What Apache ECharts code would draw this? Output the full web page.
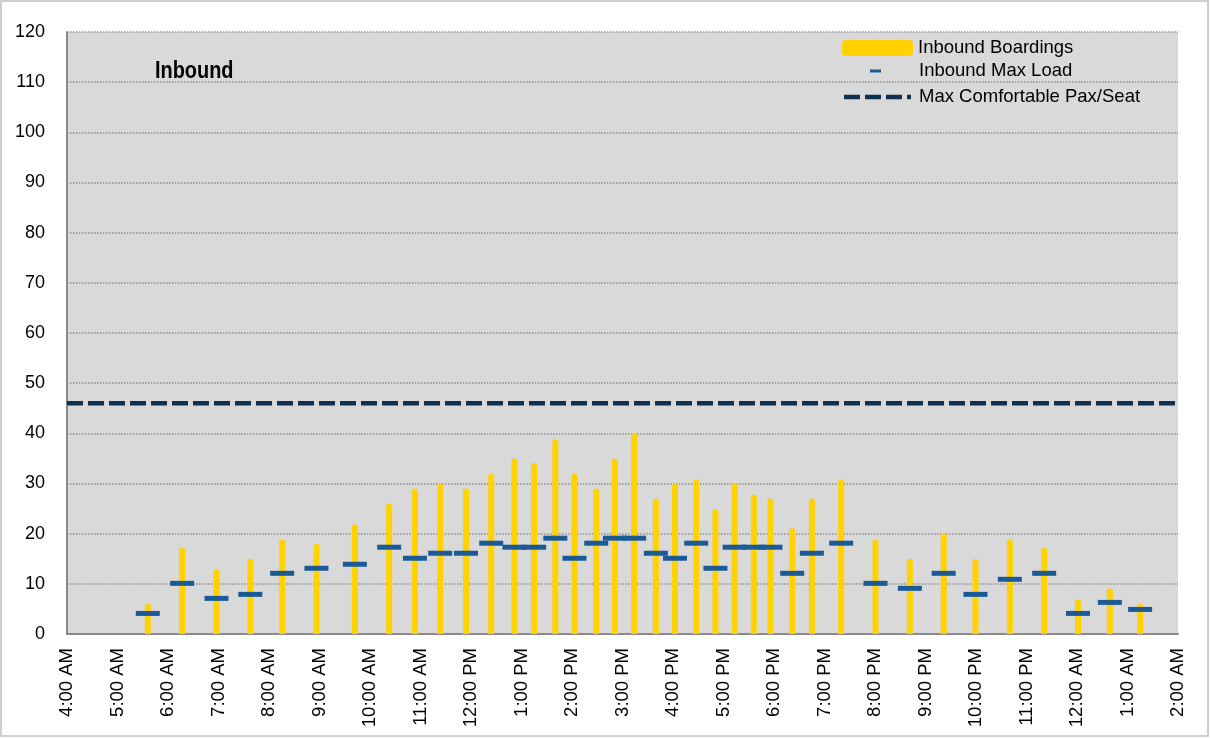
<!DOCTYPE html>
<html>
<head>
<meta charset="utf-8">
<script src="https://cdn.jsdelivr.net/npm/echarts@6/dist/echarts.min.js"></script>
<style>
  html, body { margin: 0; padding: 0; background: #fff; }
  #chart { width: 1210px; height: 738px; }
</style>
</head>
<body>
<div id="chart"></div>
<script>
// trip times (hours after midnight, past 24 = next day)
var tripTimes = [5.60, 6.28, 6.96, 7.63, 8.26, 8.94, 9.70, 10.38, 10.89, 11.39,
  11.90, 12.40, 12.86, 13.25, 13.67, 14.05, 14.48, 14.85, 15.23, 15.66,
  16.04, 16.46, 16.84, 17.22, 17.60, 17.93, 18.36, 18.75, 19.33, 20.01,
  20.69, 21.36, 21.99, 22.67, 23.35, 24.02, 24.65, 25.25];
var boardings = [6.2, 17.2, 12.9, 15, 18.9, 18, 21.9, 26, 29, 30,
  29, 32, 35, 34.1, 38.8, 32, 29, 35, 40.1, 27,
  30, 30.8, 24.9, 30, 27.8, 27, 21.1, 27, 30.8, 18.9,
  15, 20.2, 15, 18.9, 17.2, 6.9, 9.1, 6.1];
var maxLoad = [4.1, 10.1, 7.1, 7.9, 12.1, 13.1, 13.9, 17.3, 15.1, 16.1,
  16.1, 18.1, 17.3, 17.3, 19.1, 15.1, 18.1, 19.1, 19.1, 16.1,
  15.1, 18.1, 13.1, 17.3, 17.3, 17.3, 12.1, 16.1, 18.1, 10.1,
  9.1, 12.1, 7.9, 10.9, 12.1, 4.1, 6.3, 4.9];
var comfortLevel = 46;
var hourLabels = ['4:00 AM', '5:00 AM', '6:00 AM', '7:00 AM', '8:00 AM', '9:00 AM',
  '10:00 AM', '11:00 AM', '12:00 PM', '1:00 PM', '2:00 PM', '3:00 PM', '4:00 PM',
  '5:00 PM', '6:00 PM', '7:00 PM', '8:00 PM', '9:00 PM', '10:00 PM', '11:00 PM',
  '12:00 AM', '1:00 AM', '2:00 AM'];
var yTicks = [0, 10, 20, 30, 40, 50, 60, 70, 80, 90, 100, 110, 120];

var FONT = "'Liberation Sans', Arial, sans-serif";
var xMin = 4, xMax = 4 + hourLabels.length - 1;

var boardData = tripTimes.map(function (t, i) { return [t, boardings[i]]; });
var loadData = tripTimes.map(function (t, i) { return [t, maxLoad[i]]; });

// dashed legend icon, same dash rhythm as the line
var dashIcon = 'path://M0,0h16v4.5h-16z M21,0h16v4.5h-16z M42,0h16v4.5h-16z M63,0h4v4.5h-4z';

var myChart = echarts.init(document.getElementById('chart'));

var option = {
  animation: false,
  graphic: [
    {
      type: 'rect',
      shape: { x: 1, y: 1, width: 1207, height: 735 },
      style: { fill: 'none', stroke: '#cfcfcf', lineWidth: 2 },
      z: -1
    },
    {
      type: 'text',
      x: 155,
      y: 59,
      scaleX: 0.83,
      style: { text: 'Inbound', font: 'bold 24px ' + FONT, fill: '#000', verticalAlign: 'top' },
      z: 10
    }
  ],
  grid: {
    left: 67, right: 32, top: 32, bottom: 104,
    show: true,
    backgroundColor: '#d9d9d9',
    borderWidth: 0
  },
  legend: [
    {
      data: ['Inbound Boardings'],
      left: 837, top: 32,
      itemWidth: 71, itemHeight: 16,
      icon: 'roundRect',
      textStyle: { fontFamily: FONT, fontSize: 18.5, color: '#000', lineHeight: 22 }
    },
    {
      data: ['Inbound Max Load'],
      left: 865, top: 55,
      itemWidth: 11, itemHeight: 3,
      icon: 'rect',
      textStyle: { fontFamily: FONT, fontSize: 18.5, color: '#000', lineHeight: 22, padding: [0, 0, 0, 33] }
    },
    {
      data: ['Max Comfortable Pax/Seat'],
      left: 839, top: 81,
      itemWidth: 67, itemHeight: 4.5,
      icon: dashIcon,
      textStyle: { fontFamily: FONT, fontSize: 18.5, color: '#000', lineHeight: 22, padding: [0, 0, 0, 3] }
    }
  ],
  xAxis: {
    type: 'value',
    min: xMin,
    max: xMax,
    interval: 1,
    splitLine: { show: false },
    axisTick: { show: false },
    axisLine: { show: true, lineStyle: { color: '#8a8a8a', width: 2 } },
    axisLabel: {
      rotate: 90,
      margin: 14,
      fontFamily: FONT,
      fontSize: 18.5,
      color: '#000',
      formatter: function (v) { return hourLabels[Math.round(v - xMin)]; }
    }
  },
  yAxis: {
    type: 'value',
    min: yTicks[0],
    max: yTicks[yTicks.length - 1],
    interval: 10,
    axisTick: { show: false },
    axisLine: { show: true, lineStyle: { color: '#8a8a8a', width: 2 } },
    splitLine: { show: true, lineStyle: { color: '#8c8c8c', type: 'dotted', width: 1.5 } },
    axisLabel: { margin: 22, fontFamily: FONT, fontSize: 18, color: '#000' }
  },
  series: [
    {
      name: 'Inbound Boardings',
      type: 'bar',
      barWidth: 6,
      data: boardData,
      itemStyle: { color: '#ffd200', borderRadius: [3, 3, 0, 0] },
      z: 2
    },
    {
      name: 'Inbound Max Load',
      type: 'scatter',
      symbol: 'rect',
      symbolSize: [24, 5],
      data: loadData,
      itemStyle: { color: '#1b5a95', opacity: 1 },
      z: 3
    },
    {
      name: 'Max Comfortable Pax/Seat',
      type: 'line',
      symbol: 'none',
      data: [[xMin, comfortLevel], [xMax, comfortLevel]],
      lineStyle: { color: '#11304f', width: 4.5, type: [16, 5] },
      itemStyle: { color: '#11304f' },
      z: 4
    }
  ]
};

myChart.setOption(option);
</script>
</body>
</html>
